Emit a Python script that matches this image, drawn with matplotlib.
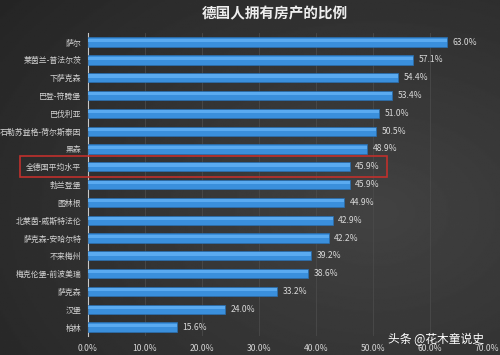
import matplotlib
matplotlib.use("Agg")
import matplotlib.pyplot as plt
from matplotlib.patches import Rectangle
import numpy as np

plt.rcParams['font.family'] = ['Noto Sans CJK SC', 'DejaVu Sans']

title = "德国人拥有房产的比例"
categories = ["萨尔", "莱茵兰-普法尔茨", "下萨克森", "巴登-符腾堡", "巴伐利亚",
              "石勒苏益格-荷尔斯泰因", "黑森", "全德国平均水平", "勃兰登堡", "图林根",
              "北莱茵-威斯特法伦", "萨克森-安哈尔特", "不来梅州", "梅克伦堡-前波美瑞",
              "萨克森", "汉堡", "柏林"]
values = [63.0, 57.1, 54.4, 53.4, 51.0, 50.5, 48.9, 45.9, 45.9, 44.9,
          42.9, 42.2, 39.2, 38.6, 33.2, 24.0, 15.6]
xticks = [0, 10, 20, 30, 40, 50, 60, 70]
highlight = "全德国平均水平"
watermark = "头条 @花木童说史"

bg = '#303030'
fig = plt.figure(figsize=(5.0, 3.55), dpi=100, facecolor=bg)
# subtle background lighting
grad = np.linspace(0, 1, 256)
gx, gy = np.meshgrid(grad, grad)
r = np.sqrt((gx - 0.75) ** 2 + (gy - 0.6) ** 2)
bgimg = np.clip(0.26 - 0.12 * r, 0.12, 0.26)
bax = fig.add_axes([0, 0, 1, 1], zorder=-10)
bax.imshow(bgimg, cmap='gray', vmin=0, vmax=1, aspect='auto', extent=[0, 1, 0, 1])
bax.axis('off')

ax = fig.add_axes([0.176, 0.0535, 0.798, 0.853])
ax.patch.set_alpha(0)
y = np.arange(len(categories))
ax.barh(y, values, height=0.52, color='#3a8fdc', edgecolor='#2a6fb0', linewidth=0.5, zorder=3)
# highlight on top half of bars
ax.barh(y - 0.1, values, height=0.18, color='#5aaaf0', linewidth=0, zorder=4)

ax.set_ylim(len(categories) - 0.5, -0.5)
ax.set_xlim(0, 70)
ax.set_yticks(y)
ax.set_yticklabels(categories, color='#d4d4d4', fontsize=5.7)
ax.set_xticks(xticks)
ax.set_xticklabels([f"{t:.1f}%" for t in xticks], color='#d4d4d4', fontsize=6.2)
ax.tick_params(axis='y', length=0, pad=5)
ax.tick_params(axis='x', length=0, pad=6)
for s in ['top', 'right', 'bottom']:
    ax.spines[s].set_visible(False)
ax.spines['left'].set_color('#c8c8c8')
ax.spines['left'].set_linewidth(0.8)
ax.xaxis.grid(True, color='#4a4a4a', linewidth=0.6, zorder=0)
ax.set_axisbelow(True)

for yi, v in zip(y, values):
    ax.text(v + 1.0, yi, f"{v:.1f}%", va='center', ha='left', color='#d8d8d8', fontsize=6.2)

hi = categories.index(highlight)
rect = Rectangle((-11.9, hi - 0.58), 64.4, 1.16, fill=False, edgecolor='#c0302c',
                 linewidth=1.2, clip_on=False, zorder=6)
ax.add_patch(rect)

fig.text(0.55, 0.962, title, ha='center', va='center', color='#eeeeee', fontsize=10.5, fontweight='bold')
fig.text(0.775, 0.045, watermark, ha='left', va='center', color='#ffffff', fontsize=8.5)

fig.savefig("out.png", dpi=100, facecolor=bg)
